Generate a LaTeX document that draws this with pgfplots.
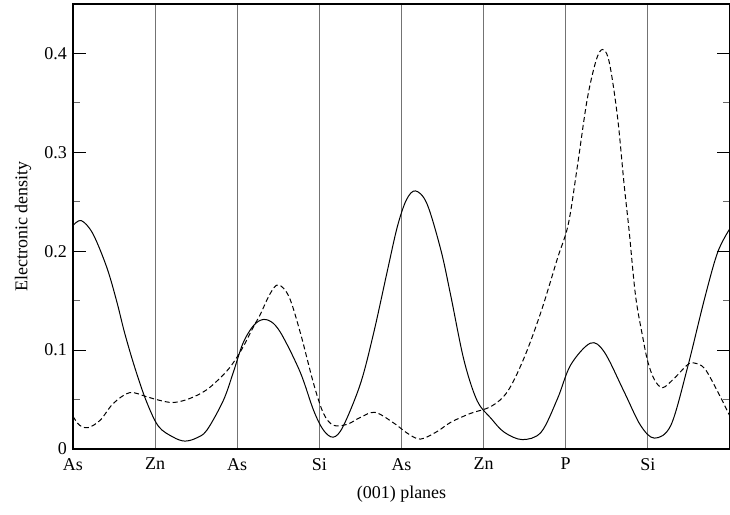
\documentclass[border=0pt]{standalone}
\usepackage{fontspec}
\setmainfont{Liberation Serif}
\usepackage{pgfplots}
\pgfplotsset{compat=1.18}
\begin{document}
\fontsize{18}{21}\selectfont
\begin{tikzpicture}
\begin{axis}[
  scale only axis, width=657pt, height=445pt,
  xmin=0, xmax=8, ymin=0, ymax=0.45,
  xtick={0,1,2,3,4,5,6,7,8},
  xticklabels={As,Zn,As,Si,As,Zn,P,Si,{}},
  xmajorgrids,
  major x grid style={draw=black!55, line width=1pt},
  x tick style={draw=none},
  ytick={0,0.1,0.2,0.3,0.4},
  yticklabels={0,0.1,0.2,0.3,0.4},
  minor ytick={0.05,0.15,0.25,0.35},
  ytick pos=both, tick align=inside,
  major tick length=13pt, minor tick length=7pt,
  y tick style={black, line width=1pt},
  minor y tick style={black!60, line width=1pt},
  tick label style={font=\fontsize{18}{21}\selectfont},
  xticklabel style={yshift=-3pt},
  label style={font=\fontsize{18}{21}\selectfont},
  xlabel={(001) planes}, ylabel={Electronic density},
  xlabel style={at={(axis description cs:0.5,-0.101)}, anchor=center},
  ylabel style={at={(axis description cs:-0.076,0.5)}, anchor=center},
  axis line style={line width=1.3pt},
  every axis plot/.append style={line width=1pt, black},
]
\addplot[smooth, tension=0.55] coordinates {
(0,0.226) (0.10,0.231) (0.24,0.218) (0.41,0.184) (0.53,0.150) (0.63,0.117) (0.75,0.083) (0.89,0.049) (1.04,0.023) (1.22,0.012) (1.36,0.008) (1.50,0.011) (1.63,0.019) (1.83,0.049) (1.95,0.077) (2.07,0.107) (2.2,0.125) (2.32,0.131) (2.44,0.127) (2.56,0.113) (2.77,0.077) (2.93,0.039) (3.05,0.019) (3.17,0.012) (3.29,0.023) (3.5,0.066) (3.66,0.117) (3.83,0.181) (3.95,0.225) (4.06,0.252) (4.17,0.261) (4.31,0.248) (4.48,0.201) (4.6,0.155) (4.76,0.09) (4.92,0.049) (5.09,0.031) (5.25,0.017) (5.47,0.0095) (5.7,0.017) (5.9,0.051) (6.06,0.085) (6.3,0.107) (6.47,0.098) (6.71,0.058) (6.91,0.024) (7.08,0.011) (7.28,0.024) (7.48,0.0815) (7.69,0.152) (7.85,0.199) (8.0,0.223)
};
\addplot[smooth, tension=0.55, dash pattern=on 5pt off 3pt] coordinates {
(0,0.033) (0.08,0.024) (0.18,0.0215) (0.33,0.029) (0.49,0.046) (0.69,0.057) (0.89,0.053) (1.04,0.0495) (1.22,0.047) (1.42,0.051) (1.63,0.06) (1.83,0.075) (1.95,0.087) (2.07,0.103) (2.2,0.124) (2.28,0.136) (2.4,0.157) (2.5,0.166) (2.63,0.154) (2.77,0.117) (2.93,0.066) (3.05,0.036) (3.17,0.024) (3.34,0.025) (3.5,0.032) (3.68,0.037) (3.91,0.026) (4.07,0.016) (4.23,0.010) (4.43,0.0175) (4.6,0.027) (4.84,0.036) (5.09,0.043) (5.29,0.058) (5.49,0.0916) (5.7,0.139) (5.9,0.193) (6.03,0.227) (6.14,0.285) (6.26,0.353) (6.37,0.393) (6.45,0.404) (6.53,0.391) (6.63,0.336) (6.71,0.268) (6.77,0.222) (6.85,0.155) (6.94,0.112) (7.0,0.088) (7.08,0.070) (7.18,0.062) (7.32,0.0714) (7.48,0.085) (7.56,0.087) (7.69,0.0815) (7.85,0.058) (8,0.033)
};
\coordinate (SW) at (rel axis cs:0,0);
\coordinate (NE) at (rel axis cs:1,1);
\end{axis}
\pgfresetboundingbox
\path[use as bounding box] ([xshift=-73pt,yshift=-66pt]SW) rectangle ([yshift=4pt]NE);
\end{tikzpicture}
\end{document}
